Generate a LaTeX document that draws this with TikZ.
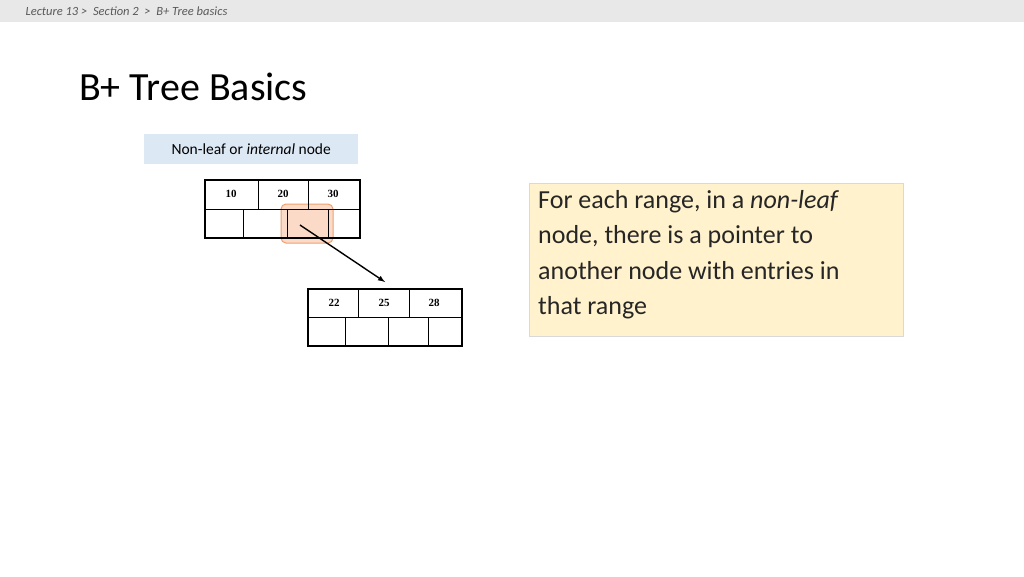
\documentclass[tikz,border=0pt]{standalone}
\usepackage{fontspec}
\setmainfont{Carlito}
\newfontfamily\numfont{Liberation Serif}
\usetikzlibrary{shadows}
\definecolor{hlfill}{RGB}{251,218,200}
\definecolor{hldraw}{RGB}{240,160,110}
\definecolor{labfill}{RGB}{221,232,245}
\definecolor{notefill}{RGB}{255,242,204}
\begin{document}
\begin{tikzpicture}[x=1pt,y=-1pt,
  cellline/.style={line width=0.6pt},
  frame/.style={line width=1.6pt},
  num/.style={font=\numfont\fontsize{11}{12}\selectfont\bfseries}]
\useasboundingbox (0,0) rectangle (1024,576);
\fill[white] (0,0) rectangle (1024,576);
\fill[gray!18] (0,0) rectangle (1024,22);
\node[anchor=west,text=black!65,font=\itshape\fontsize{12.5}{14}\selectfont] (crumb) at (22,11) {Lecture 13 >\ \ Section 2\ \ >\ \ B+ Tree basics};
\node[anchor=base west,inner sep=0,font=\fontsize{40}{44}\selectfont] (title) at (79,100) {B+ Tree Basics};
\node[fill=labfill,minimum width=214,minimum height=30,anchor=north west,font=\fontsize{15.5}{18}\selectfont] (lab) at (144,134) {Non-leaf or \textit{internal} node};
% upper node
\fill[hlfill,draw=hldraw,line width=1pt,rounded corners=5] (281,204) rectangle (333,243);
\draw[cellline] (205,209)--(360,209) (258,180)--(258,209) (308,180)--(308,209)
  (243,209)--(243,238) (287,209)--(287,238) (328,209)--(328,238);
\draw[frame] (205,180) rectangle (360,238);
\node[num] (a1) at (231,194) {10};
\node[num] (a2) at (283,194) {20};
\node[num] (a3) at (333,194) {30};
\coordinate (p) at (300,225);
% lower node
\draw[cellline] (308,317)--(462,317) (358,289)--(358,317) (409,289)--(409,317)
  (345,317)--(345,346) (388,317)--(388,346) (428,317)--(428,346);
\draw[frame] (308,289) rectangle (462,346);
\node[num] (b1) at (334,303) {22};
\node[num] (b2) at (384,303) {25};
\node[num] (b3) at (434,303) {28};
\coordinate (q) at (385,282);
\draw[line width=1.4pt,-latex] (p) -- (q);
% note
\node[anchor=north west,fill=notefill,draw=black!15,drop shadow={opacity=0.25,shadow xshift=1pt,shadow yshift=-1pt},minimum width=374,minimum height=153,inner sep=0] (note) at (529,183) {};
\node[anchor=north west,align=left,inner sep=0,font=\fontsize{26}{35.5}\selectfont,text=black!85] (notetext) at (538,190) {For each range, in a \textit{non-leaf}\\node, there is a pointer to\\another node with entries in\\that range};
\end{tikzpicture}
\end{document}
